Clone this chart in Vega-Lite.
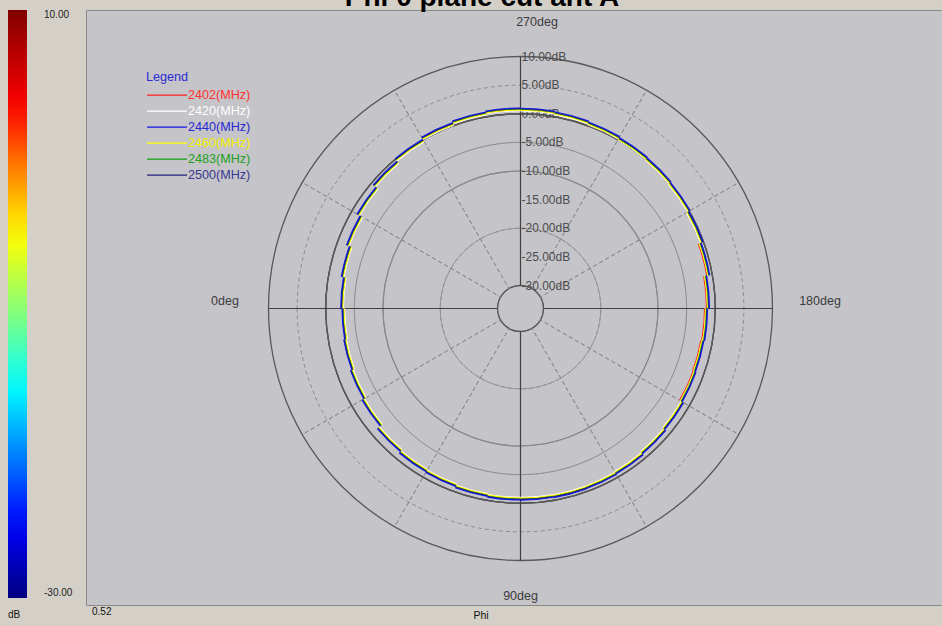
{
  "$schema": "https://vega.github.io/schema/vega-lite/v6.json",
  "width": 856,
  "height": 595,
  "autosize": "none",
  "padding": {"left": 86, "top": 10, "right": 0, "bottom": 21},
  "background": "#d4d0c8",
  "config": {
    "view": {"fill": "#c5c4c9", "stroke": "#8a8a8a", "strokeWidth": 1},
    "font": "Liberation Sans",
    "text": {"font": "Liberation Sans"}
  },
  "datasets": {
    "levels": [
      {"level": 10, "lab": "10.00dB"}, {"level": 5, "lab": "5.00dB"}, {"level": 0, "lab": "0.00dB"},
      {"level": -5, "lab": "-5.00dB"}, {"level": -10, "lab": "-10.00dB"}, {"level": -15, "lab": "-15.00dB"},
      {"level": -20, "lab": "-20.00dB"}, {"level": -25, "lab": "-25.00dB"}, {"level": -30, "lab": "-30.00dB"}
    ],
    "spokes": [
      {"ang": 0}, {"ang": 30}, {"ang": 60}, {"ang": 90}, {"ang": 120}, {"ang": 150},
      {"ang": 180}, {"ang": 210}, {"ang": 240}, {"ang": 270}, {"ang": 300}, {"ang": 330}
    ],
    "curves": [
      {"freq":"2420(MHz)","phi":0,"dB":-3.31},{"freq":"2420(MHz)","phi":10,"dB":-3.14},{"freq":"2420(MHz)","phi":20,"dB":-2.88},{"freq":"2420(MHz)","phi":30,"dB":-2.53},{"freq":"2420(MHz)","phi":40,"dB":-1.85},{"freq":"2420(MHz)","phi":50,"dB":-1.55},{"freq":"2420(MHz)","phi":60,"dB":-1.42},{"freq":"2420(MHz)","phi":70,"dB":-1.18},{"freq":"2420(MHz)","phi":80,"dB":-1.04},{"freq":"2420(MHz)","phi":90,"dB":-1.02},{"freq":"2420(MHz)","phi":100,"dB":-0.96},{"freq":"2420(MHz)","phi":110,"dB":-0.99},{"freq":"2420(MHz)","phi":120,"dB":-1.13},{"freq":"2420(MHz)","phi":130,"dB":-1.36},{"freq":"2420(MHz)","phi":140,"dB":-1.6},{"freq":"2420(MHz)","phi":150,"dB":-1.88},{"freq":"2420(MHz)","phi":160,"dB":-1.98},{"freq":"2420(MHz)","phi":170,"dB":-1.82},{"freq":"2420(MHz)","phi":180,"dB":-1.48},{"freq":"2420(MHz)","phi":190,"dB":-0.92},{"freq":"2420(MHz)","phi":200,"dB":-0.54},{"freq":"2420(MHz)","phi":210,"dB":-0.28},{"freq":"2420(MHz)","phi":220,"dB":-0.12},{"freq":"2420(MHz)","phi":230,"dB":-0.01},{"freq":"2420(MHz)","phi":240,"dB":0.18},{"freq":"2420(MHz)","phi":250,"dB":0.36},{"freq":"2420(MHz)","phi":260,"dB":0.49},{"freq":"2420(MHz)","phi":270,"dB":0.53},{"freq":"2420(MHz)","phi":280,"dB":0.36},{"freq":"2420(MHz)","phi":290,"dB":0.06},{"freq":"2420(MHz)","phi":300,"dB":-0.38},{"freq":"2420(MHz)","phi":310,"dB":-0.92},{"freq":"2420(MHz)","phi":320,"dB":-1.52},{"freq":"2420(MHz)","phi":330,"dB":-2.14},{"freq":"2420(MHz)","phi":340,"dB":-2.7},{"freq":"2420(MHz)","phi":350,"dB":-3.09},{"freq":"2420(MHz)","phi":360,"dB":-3.31},
      {"freq":"2402(MHz)","phi":0,"dB":-3.11},{"freq":"2402(MHz)","phi":10,"dB":-2.94},{"freq":"2402(MHz)","phi":20,"dB":-2.68},{"freq":"2402(MHz)","phi":30,"dB":-2.33},{"freq":"2402(MHz)","phi":40,"dB":-1.65},{"freq":"2402(MHz)","phi":50,"dB":-1.35},{"freq":"2402(MHz)","phi":60,"dB":-1.22},{"freq":"2402(MHz)","phi":70,"dB":-0.98},{"freq":"2402(MHz)","phi":80,"dB":-0.84},{"freq":"2402(MHz)","phi":90,"dB":-0.82},{"freq":"2402(MHz)","phi":100,"dB":-0.76},{"freq":"2402(MHz)","phi":110,"dB":-0.79},{"freq":"2402(MHz)","phi":120,"dB":-0.93},{"freq":"2402(MHz)","phi":130,"dB":-1.16},{"freq":"2402(MHz)","phi":140,"dB":-1.4},{"freq":"2402(MHz)","phi":150,"dB":-1.93},{"freq":"2402(MHz)","phi":160,"dB":-2.03},{"freq":"2402(MHz)","phi":170,"dB":-1.87},{"freq":"2402(MHz)","phi":180,"dB":-1.53},{"freq":"2402(MHz)","phi":190,"dB":-0.97},{"freq":"2402(MHz)","phi":200,"dB":-0.34},{"freq":"2402(MHz)","phi":210,"dB":-0.08},{"freq":"2402(MHz)","phi":220,"dB":0.08},{"freq":"2402(MHz)","phi":230,"dB":0.19},{"freq":"2402(MHz)","phi":240,"dB":0.38},{"freq":"2402(MHz)","phi":250,"dB":0.56},{"freq":"2402(MHz)","phi":260,"dB":0.69},{"freq":"2402(MHz)","phi":270,"dB":0.73},{"freq":"2402(MHz)","phi":280,"dB":0.56},{"freq":"2402(MHz)","phi":290,"dB":0.26},{"freq":"2402(MHz)","phi":300,"dB":-0.18},{"freq":"2402(MHz)","phi":310,"dB":-0.72},{"freq":"2402(MHz)","phi":320,"dB":-1.32},{"freq":"2402(MHz)","phi":330,"dB":-1.94},{"freq":"2402(MHz)","phi":340,"dB":-2.5},{"freq":"2402(MHz)","phi":350,"dB":-2.89},{"freq":"2402(MHz)","phi":360,"dB":-3.11},
      {"freq":"2460(MHz)","phi":0,"dB":-3.19},{"freq":"2460(MHz)","phi":10,"dB":-3.02},{"freq":"2460(MHz)","phi":20,"dB":-2.76},{"freq":"2460(MHz)","phi":30,"dB":-2.41},{"freq":"2460(MHz)","phi":40,"dB":-1.73},{"freq":"2460(MHz)","phi":50,"dB":-1.43},{"freq":"2460(MHz)","phi":60,"dB":-1.3},{"freq":"2460(MHz)","phi":70,"dB":-1.06},{"freq":"2460(MHz)","phi":80,"dB":-0.92},{"freq":"2460(MHz)","phi":90,"dB":-0.9},{"freq":"2460(MHz)","phi":100,"dB":-0.84},{"freq":"2460(MHz)","phi":110,"dB":-0.87},{"freq":"2460(MHz)","phi":120,"dB":-1.01},{"freq":"2460(MHz)","phi":130,"dB":-1.24},{"freq":"2460(MHz)","phi":140,"dB":-1.48},{"freq":"2460(MHz)","phi":150,"dB":-1.76},{"freq":"2460(MHz)","phi":160,"dB":-1.86},{"freq":"2460(MHz)","phi":170,"dB":-1.7},{"freq":"2460(MHz)","phi":180,"dB":-1.36},{"freq":"2460(MHz)","phi":190,"dB":-0.8},{"freq":"2460(MHz)","phi":200,"dB":-0.42},{"freq":"2460(MHz)","phi":210,"dB":-0.16},{"freq":"2460(MHz)","phi":220,"dB":0.0},{"freq":"2460(MHz)","phi":230,"dB":0.11},{"freq":"2460(MHz)","phi":240,"dB":0.3},{"freq":"2460(MHz)","phi":250,"dB":0.48},{"freq":"2460(MHz)","phi":260,"dB":0.61},{"freq":"2460(MHz)","phi":270,"dB":0.65},{"freq":"2460(MHz)","phi":280,"dB":0.48},{"freq":"2460(MHz)","phi":290,"dB":0.18},{"freq":"2460(MHz)","phi":300,"dB":-0.26},{"freq":"2460(MHz)","phi":310,"dB":-0.8},{"freq":"2460(MHz)","phi":320,"dB":-1.4},{"freq":"2460(MHz)","phi":330,"dB":-2.02},{"freq":"2460(MHz)","phi":340,"dB":-2.58},{"freq":"2460(MHz)","phi":350,"dB":-2.97},{"freq":"2460(MHz)","phi":360,"dB":-3.19},
      {"freq":"2483(MHz)","phi":0,"dB":-3.01},{"freq":"2483(MHz)","phi":10,"dB":-2.84},{"freq":"2483(MHz)","phi":20,"dB":-2.58},{"freq":"2483(MHz)","phi":30,"dB":-2.23},{"freq":"2483(MHz)","phi":40,"dB":-1.55},{"freq":"2483(MHz)","phi":50,"dB":-1.25},{"freq":"2483(MHz)","phi":60,"dB":-1.12},{"freq":"2483(MHz)","phi":70,"dB":-0.88},{"freq":"2483(MHz)","phi":80,"dB":-0.74},{"freq":"2483(MHz)","phi":90,"dB":-0.72},{"freq":"2483(MHz)","phi":100,"dB":-0.66},{"freq":"2483(MHz)","phi":110,"dB":-0.69},{"freq":"2483(MHz)","phi":120,"dB":-0.83},{"freq":"2483(MHz)","phi":130,"dB":-1.06},{"freq":"2483(MHz)","phi":140,"dB":-1.3},{"freq":"2483(MHz)","phi":150,"dB":-1.58},{"freq":"2483(MHz)","phi":160,"dB":-1.68},{"freq":"2483(MHz)","phi":170,"dB":-1.52},{"freq":"2483(MHz)","phi":180,"dB":-1.18},{"freq":"2483(MHz)","phi":190,"dB":-0.62},{"freq":"2483(MHz)","phi":200,"dB":-0.24},{"freq":"2483(MHz)","phi":210,"dB":0.02},{"freq":"2483(MHz)","phi":220,"dB":0.18},{"freq":"2483(MHz)","phi":230,"dB":0.29},{"freq":"2483(MHz)","phi":240,"dB":0.48},{"freq":"2483(MHz)","phi":250,"dB":0.66},{"freq":"2483(MHz)","phi":260,"dB":0.79},{"freq":"2483(MHz)","phi":270,"dB":0.83},{"freq":"2483(MHz)","phi":280,"dB":0.66},{"freq":"2483(MHz)","phi":290,"dB":0.36},{"freq":"2483(MHz)","phi":300,"dB":-0.08},{"freq":"2483(MHz)","phi":310,"dB":-0.62},{"freq":"2483(MHz)","phi":320,"dB":-1.22},{"freq":"2483(MHz)","phi":330,"dB":-1.84},{"freq":"2483(MHz)","phi":340,"dB":-2.4},{"freq":"2483(MHz)","phi":350,"dB":-2.79},{"freq":"2483(MHz)","phi":360,"dB":-3.01},
      {"freq":"2500(MHz)","phi":0,"dB":-2.93},{"freq":"2500(MHz)","phi":10,"dB":-2.76},{"freq":"2500(MHz)","phi":20,"dB":-2.5},{"freq":"2500(MHz)","phi":30,"dB":-2.15},{"freq":"2500(MHz)","phi":40,"dB":-1.47},{"freq":"2500(MHz)","phi":50,"dB":-1.17},{"freq":"2500(MHz)","phi":60,"dB":-1.04},{"freq":"2500(MHz)","phi":70,"dB":-0.8},{"freq":"2500(MHz)","phi":80,"dB":-0.66},{"freq":"2500(MHz)","phi":90,"dB":-0.64},{"freq":"2500(MHz)","phi":100,"dB":-0.58},{"freq":"2500(MHz)","phi":110,"dB":-0.61},{"freq":"2500(MHz)","phi":120,"dB":-0.75},{"freq":"2500(MHz)","phi":130,"dB":-0.98},{"freq":"2500(MHz)","phi":140,"dB":-1.22},{"freq":"2500(MHz)","phi":150,"dB":-1.5},{"freq":"2500(MHz)","phi":160,"dB":-1.6},{"freq":"2500(MHz)","phi":170,"dB":-1.44},{"freq":"2500(MHz)","phi":180,"dB":-1.1},{"freq":"2500(MHz)","phi":190,"dB":-0.54},{"freq":"2500(MHz)","phi":200,"dB":-0.16},{"freq":"2500(MHz)","phi":210,"dB":0.1},{"freq":"2500(MHz)","phi":220,"dB":0.26},{"freq":"2500(MHz)","phi":230,"dB":0.37},{"freq":"2500(MHz)","phi":240,"dB":0.56},{"freq":"2500(MHz)","phi":250,"dB":0.74},{"freq":"2500(MHz)","phi":260,"dB":0.87},{"freq":"2500(MHz)","phi":270,"dB":0.91},{"freq":"2500(MHz)","phi":280,"dB":0.74},{"freq":"2500(MHz)","phi":290,"dB":0.44},{"freq":"2500(MHz)","phi":300,"dB":0.0},{"freq":"2500(MHz)","phi":310,"dB":-0.54},{"freq":"2500(MHz)","phi":320,"dB":-1.14},{"freq":"2500(MHz)","phi":330,"dB":-1.76},{"freq":"2500(MHz)","phi":340,"dB":-2.32},{"freq":"2500(MHz)","phi":350,"dB":-2.71},{"freq":"2500(MHz)","phi":360,"dB":-2.93},
      {"freq":"2440(MHz)","phi":0,"dB":-2.83},{"freq":"2440(MHz)","phi":10,"dB":-2.66},{"freq":"2440(MHz)","phi":20,"dB":-2.4},{"freq":"2440(MHz)","phi":30,"dB":-2.05},{"freq":"2440(MHz)","phi":40,"dB":-1.37},{"freq":"2440(MHz)","phi":50,"dB":-1.07},{"freq":"2440(MHz)","phi":60,"dB":-0.94},{"freq":"2440(MHz)","phi":70,"dB":-0.7},{"freq":"2440(MHz)","phi":80,"dB":-0.56},{"freq":"2440(MHz)","phi":90,"dB":-0.54},{"freq":"2440(MHz)","phi":100,"dB":-0.48},{"freq":"2440(MHz)","phi":110,"dB":-0.51},{"freq":"2440(MHz)","phi":120,"dB":-0.65},{"freq":"2440(MHz)","phi":130,"dB":-0.88},{"freq":"2440(MHz)","phi":140,"dB":-1.12},{"freq":"2440(MHz)","phi":150,"dB":-1.4},{"freq":"2440(MHz)","phi":160,"dB":-1.5},{"freq":"2440(MHz)","phi":170,"dB":-1.34},{"freq":"2440(MHz)","phi":180,"dB":-1.0},{"freq":"2440(MHz)","phi":190,"dB":-0.44},{"freq":"2440(MHz)","phi":200,"dB":-0.06},{"freq":"2440(MHz)","phi":210,"dB":0.2},{"freq":"2440(MHz)","phi":220,"dB":0.36},{"freq":"2440(MHz)","phi":230,"dB":0.47},{"freq":"2440(MHz)","phi":240,"dB":0.66},{"freq":"2440(MHz)","phi":250,"dB":0.84},{"freq":"2440(MHz)","phi":260,"dB":0.97},{"freq":"2440(MHz)","phi":270,"dB":1.01},{"freq":"2440(MHz)","phi":280,"dB":0.84},{"freq":"2440(MHz)","phi":290,"dB":0.54},{"freq":"2440(MHz)","phi":300,"dB":0.1},{"freq":"2440(MHz)","phi":310,"dB":-0.44},{"freq":"2440(MHz)","phi":320,"dB":-1.04},{"freq":"2440(MHz)","phi":330,"dB":-1.66},{"freq":"2440(MHz)","phi":340,"dB":-2.22},{"freq":"2440(MHz)","phi":350,"dB":-2.61},{"freq":"2440(MHz)","phi":360,"dB":-2.83}
    ]
  },
  "encoding": {
    "x": {"datum": 0, "type": "quantitative", "scale": {"domain": [-434.5, 421.5], "nice": false, "zero": false}, "axis": null},
    "y": {"datum": 0, "type": "quantitative", "scale": {"domain": [-296.5, 298.5], "nice": false, "zero": false}, "axis": null}
  },
  "layer": [
    {
      "data": {"name": "levels"},
      "transform": [{"filter": "datum.level % 10 !== 0"}],
      "mark": {"type": "arc", "filled": false, "stroke": "#8c8c8c", "strokeWidth": 1, "strokeDash": [4, 3]},
      "encoding": {
        "theta": {"datum": 0, "type": "quantitative", "scale": {"type": "linear", "domain": [0, 360], "range": [4.71238898, -1.57079633], "zero": false, "nice": false}},
        "theta2": {"datum": 360},
        "radius": {"field": "level", "type": "quantitative", "scale": {"type": "linear", "domain": [-30, 10], "range": [23, 252], "zero": false, "nice": false}}
      }
    },
    {
      "data": {"name": "levels"},
      "transform": [{"filter": "datum.level % 10 === 0 && datum.level < 10 && datum.level > -30"}],
      "mark": {"type": "arc", "filled": false, "stroke": "#8a8a8a", "strokeWidth": 1.1},
      "encoding": {
        "theta": {"datum": 0, "type": "quantitative"},
        "theta2": {"datum": 360},
        "radius": {"field": "level", "type": "quantitative"}
      }
    },
    {
      "data": {"name": "levels"},
      "transform": [{"filter": "datum.level === 10 || datum.level === -30"}],
      "mark": {"type": "arc", "filled": false, "stroke": "#585858", "strokeWidth": 1.3},
      "encoding": {
        "theta": {"datum": 0, "type": "quantitative"},
        "theta2": {"datum": 360},
        "radius": {"field": "level", "type": "quantitative"}
      }
    },
    {
      "data": {"name": "spokes"},
      "transform": [{"filter": "datum.ang % 90 !== 0"}],
      "mark": {"type": "arc", "filled": false, "stroke": "#8c8c8c", "strokeWidth": 1, "strokeDash": [4, 3], "strokeDashOffset": 4},
      "encoding": {
        "theta": {"field": "ang", "type": "quantitative", "stack": null},
        "theta2": {"field": "ang"},
        "radius": {"datum": 10, "type": "quantitative"},
        "radius2": {"datum": -30}
      }
    },
    {
      "data": {"name": "spokes"},
      "transform": [{"filter": "datum.ang % 90 === 0"}],
      "mark": {"type": "arc", "filled": false, "stroke": "#404040", "strokeWidth": 1.2},
      "encoding": {
        "theta": {"field": "ang", "type": "quantitative", "stack": null},
        "theta2": {"field": "ang"},
        "radius": {"datum": 10, "type": "quantitative"},
        "radius2": {"datum": -30}
      }
    },
    {
      "data": {"name": "levels"},
      "mark": {"type": "text", "align": "left", "baseline": "middle", "dx": 1, "fontSize": 12, "fill": "#4d4d4d"},
      "encoding": {
        "theta": {"datum": 270, "type": "quantitative"},
        "radius": {"field": "level", "type": "quantitative"},
        "text": {"field": "lab"}
      }
    },
    {
      "data": {"values": [{}]},
      "mark": {"type": "text", "align": "center", "baseline": "middle", "dx": 16.5, "fontSize": 12.5, "fill": "#3c3c3c", "text": "270deg"},
      "encoding": {"theta": {"datum": 270, "type": "quantitative"}, "radius": {"datum": 16.03, "type": "quantitative"}}
    },
    {
      "data": {"values": [{}]},
      "mark": {"type": "text", "align": "center", "baseline": "middle", "fontSize": 12.5, "fill": "#3c3c3c", "text": "90deg"},
      "encoding": {"theta": {"datum": 90, "type": "quantitative"}, "radius": {"datum": 16.2, "type": "quantitative"}}
    },
    {
      "data": {"values": [{}]},
      "mark": {"type": "text", "align": "center", "baseline": "middle", "dy": -7.5, "fontSize": 12.5, "fill": "#3c3c3c", "text": "0deg"},
      "encoding": {"theta": {"datum": 0, "type": "quantitative"}, "radius": {"datum": 17.6, "type": "quantitative"}}
    },
    {
      "data": {"values": [{}]},
      "mark": {"type": "text", "align": "center", "baseline": "middle", "dy": -7.5, "fontSize": 12.5, "fill": "#3c3c3c", "text": "180deg"},
      "encoding": {"theta": {"datum": 180, "type": "quantitative"}, "radius": {"datum": 18.3, "type": "quantitative"}}
    },
    {
      "data": {"name": "curves"},
      "transform": [
        {"window": [{"op": "lead", "field": "phi", "as": "phi2"}], "groupby": ["freq"], "sort": [{"field": "phi", "order": "ascending"}]},
        {"filter": "isValid(datum.phi2)"}
      ],
      "mark": {"type": "arc", "filled": false, "strokeWidth": 1.1},
      "encoding": {
        "theta": {"field": "phi", "type": "quantitative", "stack": null},
        "theta2": {"field": "phi2"},
        "radius": {"field": "dB", "type": "quantitative"},
        "radius2": {"field": "dB"},
        "stroke": {
          "field": "freq", "type": "nominal",
          "scale": {
            "domain": ["2402(MHz)", "2420(MHz)", "2440(MHz)", "2460(MHz)", "2483(MHz)", "2500(MHz)"],
            "range": ["#ff1e1e", "#ffffff", "#1414e6", "#ffff00", "#12a012", "#20207a"]
          },
          "legend": {
            "orient": "none", "legendX": 60, "legendY": 61, "padding": 0,
            "title": "Legend", "titleColor": "#2b2bd0", "titleFontSize": 12.6, "titleFontWeight": "normal", "titleFont": "Liberation Sans", "titlePadding": 5,
            "symbolType": "stroke", "symbolSize": 1600, "symbolStrokeWidth": 1.3, "clipHeight": 13, "rowPadding": 2,
            "labelFontSize": 12.6, "labelFont": "Liberation Sans", "labelOffset": 0, "labelLimit": 0,
            "labelColor": {"expr": "datum.value === '2402(MHz)' ? '#ff3030' : datum.value === '2420(MHz)' ? '#ffffff' : datum.value === '2440(MHz)' ? '#2828d0' : datum.value === '2460(MHz)' ? '#f0f000' : datum.value === '2483(MHz)' ? '#20a020' : '#383890'"}
          }
        }
      }
    },
    {
      "data": {"values": [{"v": -30}, {"v": 10}]},
      "mark": {"type": "text", "text": ""},
      "encoding": {
        "fill": {
          "field": "v", "type": "quantitative",
          "scale": {
            "type": "linear", "interpolate": "rgb",
            "domain": [-30, -25.04, -15.6, -10.8, -5.44, -0.8, 3.44, 10],
            "range": ["#000080", "#0000ff", "#00ffff", "#80ff80", "#ffff00", "#ff8000", "#ff0000", "#800000"]
          },
          "legend": {
            "orient": "none", "legendX": -78, "legendY": 0, "padding": 0, "direction": "vertical",
            "gradientLength": 588, "gradientThickness": 19, "gradientStrokeWidth": 0,
            "values": [10, -30],
            "labelExpr": "datum.value < 0 ? '-' + format(-datum.value, '.2f') : format(datum.value, '.2f')",
            "labelFontSize": 10, "labelColor": "#222222", "labelOffset": 17, "labelFont": "Liberation Sans",
            "title": "dB", "titleOrient": "bottom", "titleAnchor": "start", "titleFontSize": 10, "titleFontWeight": "normal", "titleColor": "#111111", "titlePadding": 12, "titleFont": "Liberation Sans"
          }
        }
      }
    },
    {
      "data": {"values": [{}]},
      "mark": {"type": "text", "align": "center", "baseline": "alphabetic", "fontSize": 28, "fontWeight": "bold", "fill": "#000000", "text": "Phi 0 plane cut ant A"},
      "encoding": {"x": {"datum": -38.5, "type": "quantitative"}, "y": {"datum": 302.5, "type": "quantitative"}}
    },
    {
      "data": {"values": [{}]},
      "mark": {"type": "text", "align": "center", "baseline": "middle", "fontSize": 10.5, "fill": "#111111", "text": "Phi"},
      "encoding": {"x": {"datum": -39.5, "type": "quantitative"}, "y": {"datum": -307.5, "type": "quantitative"}}
    },
    {
      "data": {"values": [{}]},
      "mark": {"type": "text", "align": "left", "baseline": "middle", "fontSize": 10, "fill": "#111111", "text": "0.52"},
      "encoding": {"x": {"datum": -428.5, "type": "quantitative"}, "y": {"datum": -303.5, "type": "quantitative"}}
    }
  ]
}
